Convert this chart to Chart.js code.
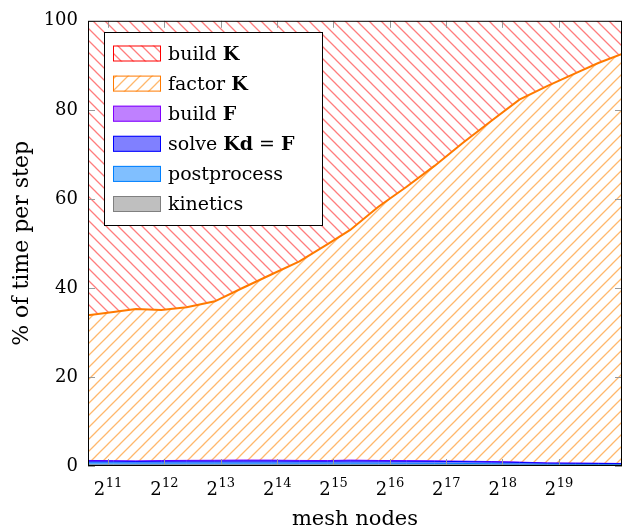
<!DOCTYPE html>
<html>
<head>
<meta charset="utf-8">
<script src="https://cdn.jsdelivr.net/npm/chart.js@4.4.1/dist/chart.umd.min.js"></script>
<style>
  html, body { margin: 0; padding: 0; background: #fff; }
</style>
</head>
<body>
<canvas id="timeChart" width="623" height="532"></canvas>
<script>
// mesh size as log2(nodes)
const logNodes = [10.65, 11.1, 11.5, 11.95, 12.4, 12.9, 13.4, 13.9, 14.4, 14.9, 15.3,
  15.8, 16.3, 16.8, 17.3, 17.8, 18.3, 18.8, 19.3, 19.7, 20.12];
const tickExps = [11, 12, 13, 14, 15, 16, 17, 18, 19];
const yTicks = [0, 20, 40, 60, 80, 100];

// % of time per step, one array per stage (bottom of the stack first)
const kinetics = [0.25, 0.25, 0.25, 0.25, 0.25, 0.25, 0.25, 0.25, 0.25, 0.25, 0.25,
  0.25, 0.25, 0.25, 0.25, 0.22, 0.2, 0.2, 0.2, 0.2, 0.2];
const postprocess = [0.45, 0.45, 0.42, 0.42, 0.42, 0.42, 0.42, 0.42, 0.4, 0.4, 0.4,
  0.38, 0.36, 0.34, 0.32, 0.28, 0.22, 0.18, 0.15, 0.15, 0.12];
const solve = [0.4, 0.38, 0.36, 0.4, 0.42, 0.42, 0.45, 0.45, 0.42, 0.42, 0.48,
  0.46, 0.45, 0.45, 0.42, 0.4, 0.38, 0.25, 0.25, 0.22, 0.2];
const buildF = [0.15, 0.12, 0.12, 0.15, 0.18, 0.2, 0.22, 0.2, 0.18, 0.15, 0.2,
  0.15, 0.15, 0.12, 0.1, 0.1, 0.08, 0.05, 0.05, 0.05, 0.05];
const factorK = [32.6, 33.4, 34.1, 33.8, 34.4, 35.7, 38.7, 41.7, 44.7, 48.6, 51.7,
  57.0, 61.5, 66.3, 71.5, 76.5, 81.4, 84.7, 87.6, 89.9, 92.0];
const buildK = [66.1, 65.4, 64.7, 65.0, 64.3, 63.0, 60.0, 57.0, 54.0, 50.2, 47.0,
  41.8, 37.3, 32.5, 27.4, 22.5, 17.7, 14.6, 11.7, 9.5, 7.4];

// legend text, [text, bold] pieces, top entry first
const legendLabels = [
  [["build ", false], ["K", true]],
  [["factor ", false], ["K", true]],
  [["build ", false], ["F", true]],
  [["solve ", false], ["Kd", true], [" = ", false], ["F", true]],
  [["postprocess", false]],
  [["kinetics", false]],
];

const FONT = "'DejaVu Serif', serif";

// diagonal hatch fill, dir > 0 is "/" and dir < 0 is "\"
function hatch(color, dir) {
  const size = 12;
  const c = document.createElement("canvas");
  c.width = size;
  c.height = size;
  const g = c.getContext("2d");
  g.strokeStyle = color;
  g.lineWidth = 1.3;
  g.beginPath();
  if (dir > 0) {
    g.moveTo(0, size); g.lineTo(size, 0);
    g.moveTo(-1, 1); g.lineTo(1, -1);
    g.moveTo(size - 1, size + 1); g.lineTo(size + 1, size - 1);
  } else {
    g.moveTo(0, 0); g.lineTo(size, size);
    g.moveTo(size - 1, -1); g.lineTo(size + 1, 1);
    g.moveTo(-1, size - 1); g.lineTo(1, size + 1);
  }
  g.stroke();
  return g.createPattern(c, "repeat");
}

const redHatch = hatch("rgba(255, 70, 70, 0.7)", -1);
const orangeHatch = hatch("rgba(255, 160, 60, 0.75)", 1);

function points(values) {
  return values.map((v, i) => ({ x: logNodes[i], y: v }));
}

const datasets = [
  { label: "kinetics", data: points(kinetics), fill: "origin",
    backgroundColor: "#bfbfbf", borderColor: "#808080", borderWidth: 1 },
  { label: "postprocess", data: points(postprocess), fill: "-1",
    backgroundColor: "#80bfff", borderColor: "#0080ff", borderWidth: 1 },
  { label: "solve", data: points(solve), fill: "-1",
    backgroundColor: "#8080ff", borderColor: "#0000ff", borderWidth: 1 },
  { label: "build F", data: points(buildF), fill: "-1",
    backgroundColor: "#bf80ff", borderColor: "#8000ff", borderWidth: 1 },
  { label: "factor K", data: points(factorK), fill: "-1",
    backgroundColor: orangeHatch, borderColor: "#ff7a00", borderWidth: 2 },
  { label: "build K", data: points(buildK), fill: "-1",
    backgroundColor: redHatch, borderColor: "#ff0000", borderWidth: 0 },
];

// tick marks, frame, x labels with exponents and the legend box
const framePlugin = {
  id: "frame",
  afterDraw(chart) {
    const { ctx, chartArea: a, scales: { x, y } } = chart;
    ctx.save();

    ctx.strokeStyle = "#9a9a9a";
    ctx.lineWidth = 1;
    ctx.beginPath();
    x.ticks.forEach((t) => {
      const px = Math.round(x.getPixelForValue(t.value)) + 0.5;
      ctx.moveTo(px, a.bottom); ctx.lineTo(px, a.bottom - 7);
      ctx.moveTo(px, a.top); ctx.lineTo(px, a.top + 7);
    });
    y.ticks.forEach((t) => {
      const py = Math.round(y.getPixelForValue(t.value)) + 0.5;
      ctx.moveTo(a.left, py); ctx.lineTo(a.left + 7, py);
      ctx.moveTo(a.right, py); ctx.lineTo(a.right - 7, py);
    });
    ctx.stroke();

    ctx.strokeStyle = "#000";
    ctx.strokeRect(a.left + 0.5, a.top + 0.5, a.width - 1, a.height - 1);

    // x tick labels: 2 with a raised exponent
    ctx.fillStyle = "#000";
    ctx.textBaseline = "alphabetic";
    ctx.textAlign = "left";
    x.ticks.forEach((t) => {
      const px = x.getPixelForValue(t.value);
      ctx.font = "18px " + FONT;
      const wb = ctx.measureText("2").width;
      ctx.font = "13px " + FONT;
      const we = ctx.measureText(String(t.value)).width;
      const left = px - (wb + we) / 2;
      ctx.font = "18px " + FONT;
      ctx.fillText("2", left, a.bottom + 29);
      ctx.font = "13px " + FONT;
      ctx.fillText(String(t.value), left + wb + 0.5, a.bottom + 21);
    });

    // legend
    const bx = 104.5, by = 32.5, bw = 218, bh = 193;
    ctx.fillStyle = "#fff";
    ctx.fillRect(bx, by, bw, bh);
    ctx.strokeStyle = "#000";
    ctx.strokeRect(bx, by, bw, bh);
    const order = datasets.slice().reverse();
    legendLabels.forEach((parts, i) => {
      const ds = order[i];
      const cy = 53.5 + i * 30.1;
      ctx.fillStyle = ds.backgroundColor;
      ctx.fillRect(113, cy - 8, 48, 16);
      ctx.strokeStyle = ds.borderColor;
      ctx.strokeRect(113.5, cy - 7.5, 47, 15);
      let tx = 168;
      ctx.fillStyle = "#000";
      parts.forEach(([text, bold]) => {
        ctx.font = (bold ? "bold " : "") + "19px " + FONT;
        ctx.fillText(text, tx, cy + 6);
        tx += ctx.measureText(text).width;
      });
    });

    ctx.restore();
  },
};

const ctxTime = document.getElementById("timeChart").getContext("2d");
new Chart(ctxTime, {
  type: "line",
  data: { datasets: datasets },
  options: {
    responsive: false,
    animation: false,
    layout: { padding: { top: 18, right: 1, left: 0, bottom: 0 } },
    plugins: { legend: { display: false }, tooltip: { enabled: false } },
    elements: { point: { radius: 0 }, line: { tension: 0 } },
    scales: {
      x: {
        type: "linear",
        min: 10.65,
        max: 20.12,
        afterBuildTicks: (s) => { s.ticks = tickExps.map((v) => ({ value: v })); },
        afterFit: (s) => { s.height = 66; },
        grid: { display: false, drawTicks: false },
        border: { display: false },
        ticks: { display: false },
        title: {
          display: true,
          text: "mesh nodes",
          color: "#000",
          font: { family: FONT, size: 21 },
          padding: { top: 0, bottom: 0 },
        },
      },
      y: {
        stacked: true,
        min: 0,
        max: 100,
        afterBuildTicks: (s) => { s.ticks = yTicks.map((v) => ({ value: v })); },
        afterFit: (s) => { s.width = 88; },
        grid: { display: false, drawTicks: false },
        border: { display: false },
        ticks: { color: "#000", padding: 10, font: { family: FONT, size: 18 } },
        title: {
          display: true,
          text: "% of time per step",
          color: "#000",
          font: { family: FONT, size: 22 },
          padding: { top: 9, bottom: 0 },
        },
      },
    },
  },
  plugins: [framePlugin],
});
</script>
</body>
</html>
